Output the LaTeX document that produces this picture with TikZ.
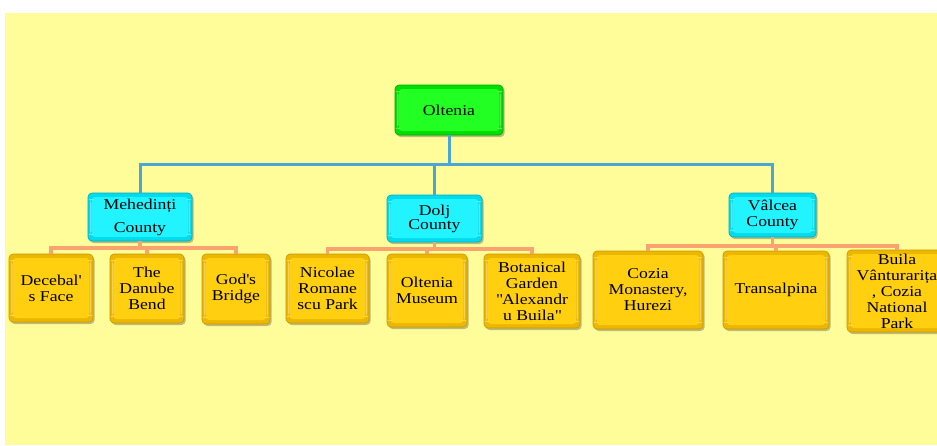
\documentclass[tikz,border=0pt]{standalone}
\usepackage{fontspec}
\setmainfont{Liberation Serif}[FakeStretch=1.18]
\usetikzlibrary{shadows,calc}

\definecolor{paper}{HTML}{FFFD99}
\definecolor{trunkblue}{HTML}{4AA6D6}
\definecolor{branchorange}{HTML}{F9A470}
\definecolor{goldout}{HTML}{EDB700}
\definecolor{goldin}{HTML}{FFCF10}
\definecolor{goldline}{HTML}{C99700}
\definecolor{cyanout}{HTML}{00DCEE}
\definecolor{cyanin}{HTML}{22F4FF}
\definecolor{cyanline}{HTML}{00A9C0}
\definecolor{greenout}{HTML}{00DD00}
\definecolor{greenin}{HTML}{22FF22}
\definecolor{greenline}{HTML}{00A800}

\tikzset{
  card/.style n args={3}{
    rounded corners=4pt, inner sep=0pt, align=center,
    fill=#1, draw=#3, line width=0.6pt,
    font=\fontsize{15}{16}\selectfont,
    drop shadow={shadow xshift=1.6pt, shadow yshift=-2pt, opacity=0.35, fill=black!75},
    path picture={
      \fill[#2, rounded corners=3pt]
        ($(path picture bounding box.south west)+(4pt,4pt)$) rectangle
        ($(path picture bounding box.north east)+(-4pt,-4pt)$);
      \fill[white, opacity=0.35]
        ($(path picture bounding box.south west)+(2pt,6pt)$) rectangle
        ($(path picture bounding box.north west)+(3.5pt,-6pt)$);
      \fill[white, opacity=0.35]
        ($(path picture bounding box.south east)+(-3.5pt,6pt)$) rectangle
        ($(path picture bounding box.north east)+(-2pt,-6pt)$);
    }},
  rootbox/.style={card={greenout}{greenin}{greenline}},
  countybox/.style={card={cyanout}{cyanin}{cyanline}},
  sitebox/.style={card={goldout}{goldin}{goldline}},
  trunk/.style={draw=trunkblue, line width=3pt},
  branch/.style={draw=branchorange, line width=3.2pt},
}

\begin{document}
\begin{tikzpicture}[x=1pt, y=-1pt]
  % page and coloured sheet
  \fill[white] (0,0) rectangle (937,445);
  \fill[paper] (5,13) rectangle (937,445);
  \useasboundingbox (0,0) rectangle (937,445);
  \clip (0,0) rectangle (937,445);

  % levels of the tree
  \node[rootbox, minimum width=108pt, minimum height=50pt] (olt) at (449,110) {Oltenia};

  \node[countybox, minimum width=104pt, minimum height=48pt] (meh) at (140,217) {Mehedinți\\[7pt]County};
  \node[countybox, minimum width=95pt, minimum height=47pt] (dolj) at (434.5,218.5) {Dolj\\[-2pt]County};
  \node[countybox, minimum width=87pt, minimum height=44pt] (val) at (772.5,215) {Vâlcea\\County};

  \node[sitebox, minimum width=84pt, minimum height=68pt] (dec) at (51,288) {Decebal\textquotesingle\\s Face};
  \node[sitebox, minimum width=74pt, minimum height=69pt] (dan) at (147,288.5) {The\\Danube\\Bend};
  \node[sitebox, minimum width=68pt, minimum height=70pt] (god) at (236,289) {God\textquotesingle s\\Bridge};

  \node[sitebox, minimum width=83pt, minimum height=69pt] (nic) at (327.5,288.5) {Nicolae\\Romane\\scu Park};
  \node[sitebox, minimum width=80pt, minimum height=73pt] (mus) at (427,290.5) {Oltenia\\Museum};
  \node[sitebox, minimum width=96pt, minimum height=74pt] (bot) at (532,291) {Botanical\\Garden\\\textquotedbl Alexandr\\u Buila\textquotedbl};

  \node[sitebox, minimum width=110pt, minimum height=78pt] (coz) at (648,290) {Cozia\\Monastery,\\Hurezi};
  \node[sitebox, minimum width=106pt, minimum height=78pt] (tra) at (776,290) {Transalpina};
  \node[sitebox, minimum width=100pt, minimum height=82pt] (bui) at (897,291) {Buila\\Vânturarița\\, Cozia\\National\\Park};

  % bar heights of the connectors
  \coordinate (topbar) at (0,164);
  \coordinate (mehbar) at (0,248);
  \coordinate (doljbar) at (0,249);
  \coordinate (valbar) at (0,246);

  % root to counties
  \draw[trunk] (olt.south) -- (olt.south |- topbar);
  \draw[trunk] (meh.north) -- (meh.north |- topbar) -- (val.north |- topbar) -- (val.north);
  \draw[trunk] (dolj.north) -- (dolj.north |- topbar);

  % counties to sites
  \draw[branch] (meh.south) -- (meh.south |- mehbar);
  \draw[branch] (dec.north) -- (dec.north |- mehbar) -- (god.north |- mehbar) -- (god.north);
  \draw[branch] (dan.north) -- (dan.north |- mehbar);

  \draw[branch] (dolj.south) -- (dolj.south |- doljbar);
  \draw[branch] (nic.north) -- (nic.north |- doljbar) -- (bot.north |- doljbar) -- (bot.north);
  \draw[branch] (mus.north) -- (mus.north |- doljbar);

  \draw[branch] (val.south) -- (val.south |- valbar);
  \draw[branch] (coz.north) -- (coz.north |- valbar) -- (bui.north |- valbar) -- (bui.north);
  \draw[branch] (tra.north) -- (tra.north |- valbar);
\end{tikzpicture}
\end{document}
